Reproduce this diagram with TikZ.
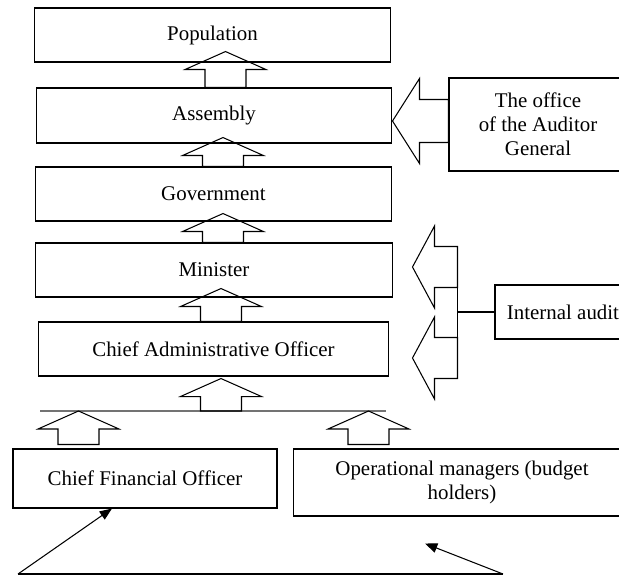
\documentclass[tikz,border=0pt]{standalone}
\usepackage{fontspec}
\setmainfont{Liberation Serif}
\usetikzlibrary{positioning,arrows.meta,calc}

% up-pointing block arrow: #1 = middle of the shaft foot, #2 = tip of the head
\newcommand\blockup[2]{%
  \draw[blk] ($(#1)+(-20.5,0)$) -- ($(#2)+(-20.5,18)$) -- ($(#2)+(-40.5,18)$)
    -- (#2) -- ($(#2)+(40.5,18)$) -- ($(#2)+(20.5,18)$) -- ($(#1)+(20.5,0)$) -- cycle;}
% left-pointing block arrow: #1 = foot, #2 = tip, #3 = head length,
% #4 = half shaft, #5 = half head
\newcommand\blockleft[5]{%
  \draw[blk] ($(#1)+(0,-#4)$) -- ($(#2)+(#3,-#4)$) -- ($(#2)+(#3,-#5)$) -- (#2)
    -- ($(#2)+(#3,#5)$) -- ($(#2)+(#3,#4)$) -- ($(#1)+(0,#4)$) -- cycle;}

\begin{document}
\begin{tikzpicture}[
    x=0.02cm, y=-0.02cm,
    font=\fontsize{11.9}{13.6}\selectfont,
    line width=0.6pt,
    box/.style={draw, align=center, inner sep=0pt, minimum height=1.08cm},
    blk/.style={draw, line join=miter},
    bus/.style={draw=black!55},
    ptr/.style={-{Triangle[length=7pt, width=5.5pt]}},
  ]
  \useasboundingbox (0,0) rectangle (619,575);
  \clip (0,0) rectangle (619,575);

  % --- chain of accountability ---
  \node[box, minimum width=7.14cm] (pop) at (212.5,35) {Population};
  \node[box, minimum width=7.12cm, minimum height=1.10cm] (asm) at (214,115.5) {Assembly};
  \node[box, minimum width=7.14cm] (gov) at (213.5,194) {Government};
  \node[box, minimum width=7.16cm] (min) at (214,270) {Minister};
  \node[box, minimum width=7.02cm] (cao) at (213.5,349) {Chief Administrative Officer};

  % --- bottom level ---
  \node[box, minimum width=5.28cm, minimum height=1.18cm] (cfo) at (145,478.5)
    {Chief Financial Officer};
  \node[box, minimum width=6.76cm, minimum height=1.34cm] (ops) at (462,482.5)
    {Operational managers (budget\\holders)};

  % --- audit side ---
  \node[box, minimum width=3.56cm, minimum height=1.86cm] (aud) at (538,124.5)
    {The office\\of the Auditor\\General};
  \node[box, minimum width=2.72cm] (ia) at (563,312) {Internal audit};

  % --- block arrows up the chain ---
  \foreach \ax/\lo/\up/\dip in {225.5/asm/pop/11, 223/gov/asm/6, 223/min/gov/8, 221/cao/min/9} {
    \coordinate (f) at (\ax,0 |- \lo.north);
    \coordinate (t) at ($(\ax,0 |- \up.south)+(0,-\dip)$);
    \blockup{f}{t}
  }

  % --- collecting line under the CAO ---
  \coordinate (busL) at (40,411);
  \coordinate (busR) at (386,411);
  \draw[bus] (busL) -- (busR);
  \coordinate (f) at (221,0 |- busL);
  \coordinate (t) at ($(221,0 |- cao.south)+(0,2)$);
  \blockup{f}{t}
  \coordinate (f) at ($(78.5,0 |- cfo.north)+(0,-4)$);
  \coordinate (t) at (78.5,0 |- busL);
  \blockup{f}{t}
  \coordinate (f) at ($(368.5,0 |- ops.north)+(0,-4)$);
  \coordinate (t) at (368.5,0 |- busL);
  \blockup{f}{t}

  % --- auditor general reports to the assembly ---
  \coordinate (af) at ($(aud.west)+(0,-3.5)$);
  \coordinate (at) at (asm.east |- af);
  \blockleft{af}{at}{27}{21.5}{42.5}

  % --- internal audit feeds minister and CAO ---
  \coordinate (jn) at ($(ia.west)+(-37,0)$);
  \coordinate (uf) at ($(jn)+(0,-45)$);
  \coordinate (lf) at ($(jn)+(0,46)$);
  \coordinate (ut) at ($(min.east |- uf)+(19,0)$);
  \coordinate (lt) at ($(min.east |- lf)+(19,0)$);
  \blockleft{uf}{ut}{22}{20.5}{41}
  \blockleft{lf}{lt}{22}{20.5}{41}
  \draw (uf) -- (lf);
  \draw (jn) -- (ia.west);

  % --- bottom pointers ---
  \coordinate (bl) at (18,574);
  \coordinate (br) at (503,574);
  \draw (bl) -- (br);
  \draw[ptr] (bl) -- ($(cfo.south)+(-33,0)$);
  \draw[ptr] (br) -- ($(ops.south)+(-37,27)$);
\end{tikzpicture}
\end{document}
